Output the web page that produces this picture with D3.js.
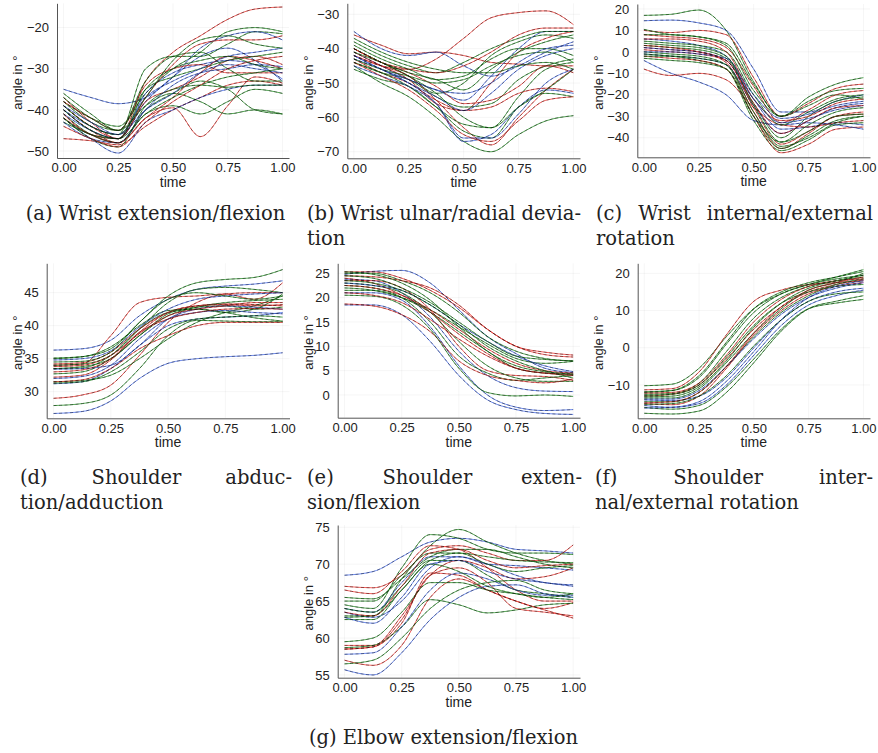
<!DOCTYPE html>
<html>
<head>
<meta charset="utf-8">
<script src="https://cdn.jsdelivr.net/npm/d3@7"></script>
<style>
  body { margin: 0; background: #fff; }
  text { fill: #222; }
</style>
</head>
<body>
<script>
// sample times shared by every trajectory
var timeGrid = [0, 0.125, 0.25, 0.375, 0.5, 0.625, 0.75, 0.875, 1];
var xTicks = [0, 0.25, 0.5, 0.75, 1];

// (a) wrist extension/flexion
var wristExtFlex = [
  [-37, -43, -47, -33, -26, -22, -18, -15.5, -15],
  [-35, -37, -38.5, -37, -32, -27, -25, -28, -33],
  [-40, -45, -48, -42, -39.5, -46.5, -39, -32, -33.5],
  [-47, -47.5, -48.5, -44, -40, -37, -34, -33, -34],
  [-39, -44, -46, -30, -27, -27, -24, -21, -21.5],
  [-38, -42, -44, -36, -30, -26, -21, -20, -21],
  [-40, -45, -47, -38, -32, -25, -22, -21, -23],
  [-41, -46, -48, -40, -36, -33, -35, -40, -41],
  [-42, -47, -50.5, -43, -40, -37, -35, -34, -34],
  [-43, -46, -48, -41, -39, -41, -38, -35, -36],
  [-39, -44, -47, -38, -35, -32, -28, -27, -29],
  [-38, -43, -45, -35, -32, -30, -28, -27, -26],
  [-41, -45, -47, -36, -31, -29, -28, -29, -32.5],
  [-38, -42, -45, -34, -30, -29, -31, -31, -31],
  [-36, -41, -45, -33, -27, -26, -30, -33, -33],
  [-40, -44, -46, -37, -33, -30, -27, -26, -25],
  [-42, -47, -49, -39, -35, -34, -34.5, -34, -34],
  [-41, -46, -47, -37, -29, -24, -23, -23, -22],
  [-39, -44, -46, -37, -28, -23, -22, -24, -25],
  [-43, -47, -48, -40, -34, -31, -30, -29, -29.5],
  [-37, -42, -45, -39, -36, -38, -41, -40, -41],
  [-42, -46, -48, -42, -37, -31, -27, -28, -30],
  [-39, -43, -46, -40, -36, -31, -29, -30, -31],
  [-40, -45, -47, -41, -37, -34, -32, -31, -30],
  [-44, -47, -49, -43, -38, -34, -30, -28, -27],
  [-42, -46, -47, -35, -30, -28, -27, -29, -30]
];
var wristExtFlexColors = "rbrrggbgbgrgbrgbgrgbgrbgrg";

// (b) wrist ulnar/radial deviation
var wristDeviation = [
  [-42, -45, -46, -43, -37, -31, -29.5, -29, -33],
  [-36, -39, -41.5, -41, -42, -44, -44.5, -45, -45],
  [-35, -40, -42, -41, -45, -48, -45, -41, -38],
  [-40, -44, -48, -53, -50, -42, -38, -36, -37],
  [-41, -45, -49, -52, -55, -48, -40, -35, -35],
  [-43, -47, -50, -55, -58, -50, -41, -37, -35],
  [-44, -47, -49, -54, -57, -56, -49, -45, -43],
  [-40, -44, -48, -53, -60, -63, -54, -46, -44],
  [-42, -45, -48, -55, -63, -68, -60, -52, -46],
  [-45, -50, -54, -60, -67, -70, -65, -61, -59.5],
  [-46, -49, -51, -57, -64, -66, -57, -53, -54],
  [-43, -46, -50, -56, -67, -65, -57, -52, -53],
  [-41, -45, -49, -56, -58, -57, -53, -51.5, -52.5],
  [-38, -42, -45, -47, -44, -40, -37, -35, -35],
  [-40, -44, -46, -47, -45, -41, -36, -34, -34],
  [-39, -43, -46, -49, -48, -43, -40, -40, -42],
  [-42, -46, -50, -54, -58, -53, -46, -42, -40],
  [-44, -47, -51, -57, -62, -63, -57, -52, -46],
  [-40, -44, -47, -51, -56, -55, -51, -45, -47],
  [-43, -46, -48, -50, -49, -45, -42, -41, -44],
  [-45, -48, -51, -56, -66, -66, -59, -50, -46],
  [-41, -44, -47, -49, -52, -46, -41, -38, -36],
  [-44, -48, -52, -58, -65, -67, -61, -55, -54],
  [-37, -41, -44, -46, -47, -47, -45, -44, -46],
  [-42, -46, -49, -52, -53, -50, -44, -40, -39]
];
var wristDeviationColors = "rrbgbrggrggbrgrgbgrgbgrgb";

// (c) wrist internal/external rotation
var wristRotation = [
  [17, 17.5, 19.5, 10, -14, -30, -25, -20, -22],
  [14.5, 14.8, 13.5, 10, -8, -28, -28, -23, -20],
  [10, 9, 10, 8, -12, -30, -24, -17, -15],
  [10.5, 8, 7, 4, -15, -30, -21, -15, -12],
  [8, 7, 6, 2, -16, -33, -27, -20, -18],
  [6, 5, 3, -2, -22, -36, -35, -33, -34],
  [3, 2, 1, -3, -24, -40, -30, -23, -21],
  [2, 1, 0, -5, -28, -45, -38, -30, -29],
  [0, -1, -2, -6, -30, -45, -39, -32, -30],
  [-1, -2, -3, -6, -25, -38, -32, -26, -24],
  [-1, -2, -4, -8, -32, -46, -41, -34, -33],
  [-2, -3, -4, -8, -30, -47, -43, -36, -35],
  [-4, -10, -14, -20, -32, -34, -33, -34, -36],
  [-8, -11, -10, -13, -26, -34, -35, -33, -32],
  [5, 4, 3, 0, -20, -34, -28, -22, -20],
  [1, 0, -1, -4, -26, -43, -37, -30, -28],
  [-2, -2, -3, -6, -28, -44, -40, -33, -30],
  [0, 0, -1, -3, -20, -31, -29, -25, -23],
  [4, 3, 2, -2, -25, -42, -34, -28, -26],
  [6, 6, 5, 0, -22, -32, -30, -24, -22],
  [-3, -4, -5, -8, -30, -42, -37, -30, -29],
  [2, 1, 0, -4, -22, -33, -31, -27, -25],
  [8, 8, 7, 3, -18, -30, -23, -18, -17],
  [3, 2, 0, -4, -24, -38, -32, -26, -25]
];
var wristRotationColors = "gbrgrbgrgbgrbrgrgbgrgbgr";

// (d) shoulder abduction/adduction
var shoulderAbduction = [
  [26.7, 27.0, 28.6, 32.0, 34.3, 35.0, 35.3, 35.5, 35.9],
  [27.9, 28.2, 29.5, 33.5, 38.5, 40.8, 40.7, 40.6, 40.6],
  [29.0, 29.5, 31.0, 35.5, 40.5, 43.5, 44.8, 45.0, 45.0],
  [36.3, 36.5, 37.8, 41.5, 44.0, 45.5, 46.0, 46.3, 46.8],
  [34.0, 34.2, 38.5, 43.5, 44.3, 44.5, 44.8, 44.0, 46.5],
  [35.0, 35.3, 36.5, 40.5, 44.5, 46.5, 47.0, 47.3, 48.5],
  [34.0, 34.2, 35.5, 39.5, 43.5, 45.5, 45.8, 45.5, 45.0],
  [33.5, 33.8, 35.0, 38.5, 41.8, 42.8, 43.0, 42.5, 42.8],
  [33.5, 33.6, 35.5, 39.5, 42.0, 42.5, 42.0, 41.2, 40.7],
  [32.2, 32.5, 34.8, 39.0, 42.0, 43.0, 43.3, 43.2, 43.0],
  [31.2, 31.5, 33.5, 37.0, 40.0, 41.0, 41.3, 41.5, 42.0],
  [31.5, 31.7, 32.5, 35.0, 38.0, 40.5, 42.0, 43.0, 44.5],
  [31.5, 31.8, 33.5, 36.5, 38.5, 40.0, 40.5, 40.5, 40.5],
  [32.7, 33.0, 35.0, 38.5, 41.5, 42.8, 43.5, 43.8, 44.0],
  [33.4, 33.5, 34.0, 37.0, 41.0, 42.5, 43.0, 42.8, 42.5],
  [34.2, 34.4, 36.0, 39.5, 42.0, 43.0, 43.2, 43.0, 43.2],
  [35.1, 35.3, 36.8, 40.0, 42.3, 42.5, 42.0, 42.5, 44.8],
  [34.8, 35.0, 36.2, 39.8, 42.5, 44.0, 44.5, 44.8, 45.0],
  [33.8, 34.0, 35.5, 38.8, 41.5, 42.5, 43.0, 43.5, 43.5],
  [34.5, 34.6, 36.0, 40.5, 44.0, 45.0, 44.5, 44.0, 44.5],
  [32.0, 32.3, 34.0, 38.0, 41.0, 42.0, 42.3, 42.0, 41.8],
  [31.3, 31.5, 33.0, 36.0, 39.5, 41.0, 41.3, 41.5, 41.3],
  [33.0, 33.3, 35.0, 39.0, 41.0, 42.0, 42.5, 42.6, 42.5]
];
var shoulderAbductionColors = "bgrbrggggrbgrgbrgbrgbgr";

// (e) shoulder extension/flexion
var shoulderExtFlex = [
  [24.8, 25.4, 25.6, 23.0, 17.5, 12.0, 8.5, 5.5, 4.6],
  [25.3, 25.3, 24.0, 21.5, 18.0, 13.5, 10.0, 8.8, 8.2],
  [25.0, 25.0, 23.5, 21.0, 17.0, 12.0, 9.0, 7.5, 7.0],
  [24.5, 24.3, 23.5, 22.0, 18.5, 13.5, 10.0, 8.3, 7.8],
  [23.8, 23.5, 21.0, 16.0, 9.0, 4.0, 1.5, 0.8, 0.7],
  [23.5, 23.5, 22.0, 17.5, 10.0, 5.0, 4.0, 3.8, 3.0],
  [23.0, 22.5, 21.0, 17.0, 11.0, 6.0, 3.5, 2.8, 2.8],
  [22.5, 22.0, 20.0, 15.0, 8.0, 4.5, 3.0, 3.5, 4.0],
  [21.0, 21.0, 19.5, 14.0, 6.0, 0.0, -2.5, -3.2, -3.0],
  [18.5, 18.5, 16.5, 11.0, 4.0, -1.0, -3.0, -3.8, -4.0],
  [18.7, 18.3, 16.5, 13.0, 7.0, 4.0, 3.0, 2.5, 3.3],
  [20.5, 20.3, 18.5, 13.5, 5.5, 0.5, -0.2, 0.0, -0.3],
  [21.5, 21.5, 20.0, 17.0, 13.0, 9.0, 5.5, 4.5, 4.2],
  [24.0, 23.0, 20.5, 17.0, 12.5, 8.5, 5.5, 4.5, 4.0],
  [22.0, 21.5, 20.0, 17.5, 14.0, 10.5, 7.5, 6.5, 6.9],
  [23.0, 22.5, 21.5, 18.5, 14.5, 11.0, 8.0, 6.0, 4.8],
  [24.5, 24.0, 22.0, 19.0, 15.0, 11.0, 8.0, 7.3, 7.0],
  [22.5, 22.0, 20.5, 17.5, 13.5, 9.5, 6.5, 5.0, 4.5],
  [23.5, 23.0, 21.5, 18.5, 14.5, 10.0, 7.0, 5.0, 3.5],
  [21.0, 20.5, 19.0, 15.5, 11.5, 8.0, 5.5, 4.5, 4.3],
  [25.3, 24.8, 23.0, 19.5, 14.0, 9.0, 6.0, 4.8, 4.3]
];
var shoulderExtFlexColors = "brgrbrggbbrggrgbgrgrg";

// (f) shoulder internal/external rotation
var shoulderRotation = [
  [-10.2, -9.8, -5.5, 3.0, 10.5, 14.5, 17.0, 19.0, 21.0],
  [-11.3, -11.0, -6.5, 3.5, 12.5, 15.5, 17.0, 17.5, 18.0],
  [-12.0, -11.5, -7.5, 1.5, 10.5, 15.0, 17.5, 19.0, 20.5],
  [-12.5, -12.3, -9.5, -1.0, 8.0, 13.5, 16.5, 18.0, 19.0],
  [-13.0, -12.5, -10.0, -3.0, 5.0, 11.0, 15.0, 17.0, 18.3],
  [-13.5, -13.5, -11.0, -4.0, 4.0, 10.5, 15.5, 17.5, 20.0],
  [-14.0, -14.2, -13.0, -8.0, 0.0, 7.5, 12.5, 15.0, 16.0],
  [-14.5, -14.5, -12.0, -5.0, 3.0, 9.5, 14.0, 17.0, 18.5],
  [-15.0, -15.3, -13.0, -5.5, 3.5, 10.0, 14.5, 16.5, 17.5],
  [-15.5, -16.0, -15.0, -10.0, -2.0, 6.0, 11.5, 14.0, 15.5],
  [-16.0, -16.5, -15.5, -10.5, -3.0, 5.0, 10.5, 12.0, 13.0],
  [-17.6, -17.8, -17.0, -12.0, -4.0, 4.5, 10.5, 12.5, 14.0],
  [-12.8, -12.5, -10.0, -2.5, 6.0, 12.0, 15.0, 16.5, 17.0],
  [-12.2, -12.0, -9.5, -2.0, 7.0, 13.0, 16.5, 18.0, 18.5],
  [-13.8, -13.8, -11.5, -5.0, 2.5, 9.0, 13.5, 16.0, 17.5],
  [-15.2, -15.0, -13.0, -7.5, 0.5, 7.5, 12.5, 14.5, 15.0],
  [-14.8, -14.5, -12.0, -5.0, 4.0, 11.0, 15.5, 17.5, 19.0],
  [-13.2, -13.0, -10.5, -3.5, 5.5, 12.0, 16.0, 18.0, 19.5],
  [-16.2, -16.0, -14.5, -9.0, -1.0, 7.5, 13.5, 16.5, 18.0],
  [-11.8, -11.5, -8.0, 1.0, 9.5, 14.5, 17.0, 18.5, 19.5]
];
var shoulderRotationColors = "grggrgbgrbgggrbgrgbg";

// (g) elbow extension/flexion
var elbowExtFlex = [
  [68.5, 69.0, 71.0, 73.0, 73.5, 73.0, 72.0, 71.8, 71.5],
  [64.5, 64.0, 69.5, 74.0, 73.5, 72.0, 71.5, 71.5, 71.3],
  [63.0, 63.0, 68.0, 72.5, 74.7, 73.0, 71.5, 70.5, 70.0],
  [67.0, 66.8, 68.5, 72.0, 72.5, 71.5, 70.5, 70.5, 72.6],
  [66.5, 66.0, 69.0, 72.5, 72.0, 69.5, 66.5, 65.0, 65.0],
  [64.0, 63.5, 67.5, 71.0, 71.0, 70.0, 69.8, 69.5, 69.2],
  [65.0, 65.0, 68.5, 71.5, 71.5, 71.0, 70.5, 70.3, 70.2],
  [63.5, 62.8, 65.0, 69.5, 71.0, 70.0, 68.5, 67.5, 67.2],
  [64.0, 63.5, 67.0, 70.5, 70.5, 68.5, 66.5, 66.0, 65.5],
  [62.8, 63.0, 66.5, 70.5, 71.5, 70.0, 69.0, 69.5, 69.8],
  [59.0, 59.0, 63.0, 68.5, 70.5, 69.5, 68.0, 68.3, 69.5],
  [58.5, 58.8, 62.0, 68.8, 68.5, 66.5, 65.0, 64.0, 64.8],
  [58.7, 59.0, 61.5, 65.2, 64.5, 63.4, 63.8, 64.5, 64.7],
  [57.0, 56.3, 59.0, 65.5, 68.0, 66.5, 65.0, 63.8, 62.7],
  [55.7, 55.0, 58.0, 62.5, 65.5, 67.0, 67.2, 66.0, 65.5],
  [57.8, 58.0, 61.5, 66.5, 68.8, 68.0, 66.5, 65.8, 65.8],
  [58.5, 58.8, 62.5, 68.5, 69.5, 67.5, 64.0, 63.5, 63.0],
  [59.5, 60.0, 63.5, 67.5, 67.5, 66.5, 66.0, 65.5, 65.2],
  [62.5, 62.5, 66.5, 70.0, 69.0, 67.0, 66.0, 65.5, 66.0],
  [62.8, 62.0, 65.5, 70.0, 70.5, 69.0, 68.0, 67.5, 67.0],
  [65.5, 65.3, 68.0, 71.0, 72.0, 72.0, 71.0, 70.0, 69.5],
  [63.5, 63.0, 67.0, 71.5, 72.0, 70.5, 69.5, 69.8, 70.0],
  [56.5, 57.0, 60.0, 64.0, 66.5, 67.5, 67.8, 66.5, 66.0]
];
var elbowExtFlexColors = "bggrrbgbggrrgrbbrggbgrg";

var yTicksA = [-50, -40, -30, -20];
var yTicksB = [-70, -60, -50, -40, -30];
var yTicksC = [-40, -30, -20, -10, 0, 10, 20];
var yTicksD = [30, 35, 40, 45];
var yTicksE = [0, 5, 10, 15, 20, 25];
var yTicksF = [-10, 0, 10, 20];
var yTicksG = [55, 60, 65, 70, 75];

var captionA = [["(a) Wrist extension/flexion", "center"]];
var captionB = [["(b) Wrist ulnar/radial devia-", "justify"], ["tion", "left"]];
var captionC = [["(c) Wrist internal/external", "justify"], ["rotation", "left"]];
var captionD = [["(d) Shoulder abduc-", "justify"], ["tion/adduction", "left"]];
var captionE = [["(e) Shoulder exten-", "justify"], ["sion/flexion", "left"]];
var captionF = [["(f) Shoulder inter-", "justify"], ["nal/external rotation", "left"]];
var captionG = [["(g) Elbow extension/flexion", "center"]];

// layout of each panel (pixels) and its y limits
var panels = [
  {data: wristExtFlex, colors: wristExtFlexColors, yTicks: yTicksA, ylim: [-51.7, -14.1],
   L: 57, R: 289, T: 3.3, B: 158, labelX: 17, caption: captionA, capL: 20, capR: 291, capY: 220},
  {data: wristDeviation, colors: wristDeviationColors, yTicks: yTicksB, ylim: [-71.9, -26.8],
   L: 347.3, R: 580, T: 3.3, B: 158.3, labelX: 308, caption: captionB, capL: 307, capR: 581, capY: 220},
  {data: wristRotation, colors: wristRotationColors, yTicks: yTicksC, ylim: [-49.1, 22.3],
   L: 637.3, R: 870, T: 4, B: 157.3, labelX: 598, caption: captionC, capL: 596, capR: 873, capY: 220},
  {data: shoulderAbduction, colors: shoulderAbductionColors, yTicks: yTicksD, ylim: [25.97, 49.45],
   L: 46.7, R: 289.5, T: 263.3, B: 418.3, labelX: 17, caption: captionD, capL: 20, capR: 292, capY: 484},
  {data: shoulderExtFlex, colors: shoulderExtFlexColors, yTicks: yTicksE, ylim: [-4.67, 27.06],
   L: 337.7, R: 580, T: 263.3, B: 417.7, labelX: 308, caption: captionE, capL: 307, capR: 582, capY: 484},
  {data: shoulderRotation, colors: shoulderRotationColors, yTicks: yTicksF, ylim: [-18.95, 22.7],
   L: 637.7, R: 870, T: 263.3, B: 418.3, labelX: 598, caption: captionF, capL: 595, capR: 873, capY: 484},
  {data: elbowExtFlex, colors: elbowExtFlexColors, yTicks: yTicksG, ylim: [54.63, 75.3],
   L: 337.7, R: 580, T: 525, B: 677.7, labelX: 308, caption: captionG, capL: 307, capR: 580, capY: 744}
];

var palette = {r: "#f03a35", g: "#2a902a", b: "#4a6ee8"};

var svg = d3.select("body").append("svg").attr("width", 878).attr("height", 753)
    .style("font-family", "'Liberation Sans', Arial, sans-serif");

panels.forEach(function (p, pi) {
    var x = d3.scaleLinear().domain([-0.03, 1.03]).range([p.L, p.R]);
    var y = d3.scaleLinear().domain(p.ylim).range([p.B, p.T]);
    var g = svg.append("g");

    // grid
    g.selectAll(".gx").data(xTicks).join("line")
        .attr("x1", function (d) { return x(d); }).attr("x2", function (d) { return x(d); })
        .attr("y1", p.T).attr("y2", p.B)
        .attr("stroke", "#000").attr("stroke-opacity", 0.07).attr("stroke-width", 0.6);
    g.selectAll(".gy").data(p.yTicks).join("line")
        .attr("x1", p.L).attr("x2", p.R)
        .attr("y1", function (d) { return y(d); }).attr("y2", function (d) { return y(d); })
        .attr("stroke", "#000").attr("stroke-opacity", 0.07).attr("stroke-width", 0.6);

    // clip to the plot area
    var clipId = "clip" + pi;
    g.append("clipPath").attr("id", clipId).append("rect")
        .attr("x", p.L).attr("y", p.T).attr("width", p.R - p.L).attr("height", p.B - p.T);

    var line = d3.line()
        .x(function (d, i) { return x(timeGrid[i]); })
        .y(function (d) { return y(d); })
        .curve(d3.curveMonotoneX);

    var curves = g.append("g").attr("clip-path", "url(#" + clipId + ")");
    // measured trajectories (coloured)
    curves.selectAll(".raw").data(p.data).join("path")
        .attr("d", line)
        .attr("fill", "none")
        .attr("stroke", function (d, i) { return palette[p.colors[i]]; })
        .attr("stroke-opacity", 0.8)
        .attr("stroke-width", 1);
    // fitted trajectories (black dashed)
    curves.selectAll(".fit").data(p.data).join("path")
        .attr("d", line)
        .attr("fill", "none")
        .attr("stroke", "#000")
        .attr("stroke-opacity", 0.45)
        .attr("stroke-width", 0.9)
        .attr("stroke-dasharray", "3,2.5");

    // axes
    var yAxis = d3.axisLeft(y).tickValues(p.yTicks).tickSize(0).tickSizeOuter(0).tickPadding(8);
    var xAxis = d3.axisBottom(x).tickValues(xTicks).tickSize(0).tickSizeOuter(0).tickPadding(5)
        .tickFormat(d3.format(".2f"));
    var ya = g.append("g").attr("transform", "translate(" + p.L + ",0)").call(yAxis);
    var xa = g.append("g").attr("transform", "translate(0," + p.B + ")").call(xAxis);
    [ya, xa].forEach(function (a) {
        a.select(".domain").attr("stroke", "#555").attr("stroke-width", 1);
        a.selectAll("text").attr("font-size", 13).attr("fill", "#222")
            .attr("font-family", "'Liberation Sans', Arial, sans-serif");
    });

    // axis titles
    g.append("text")
        .attr("x", (x(0) + x(1)) / 2).attr("y", p.B + 29)
        .attr("text-anchor", "middle").attr("font-size", 14)
        .text("time");
    g.append("text")
        .attr("transform", "translate(" + p.labelX + "," + ((p.T + p.B) / 2 + 2) + ") rotate(-90)")
        .attr("text-anchor", "middle").attr("dy", "0.35em").attr("font-size", 13)
        .text("angle in °");

    // sub caption, LaTeX-like justified lines
    p.caption.forEach(function (ln, li) {
        var yy = p.capY + li * 25;
        var cap = svg.append("g").attr("font-family", "'DejaVu Serif', serif").attr("font-size", 19.5);
        if (ln[1] === "justify") {
            var words = ln[0].split(" ");
            var nodes = words.map(function (w) { return cap.append("text").attr("y", yy).text(w); });
            var widths = nodes.map(function (n) { return n.node().getComputedTextLength(); });
            var gap = (p.capR - p.capL - d3.sum(widths)) / (words.length - 1);
            var cx = p.capL;
            nodes.forEach(function (n, k) { n.attr("x", cx); cx += widths[k] + gap; });
        } else if (ln[1] === "center") {
            cap.append("text").attr("x", (p.capL + p.capR) / 2).attr("y", yy)
                .attr("text-anchor", "middle").text(ln[0]);
        } else {
            cap.append("text").attr("x", p.capL).attr("y", yy).text(ln[0]);
        }
    });
});
</script>
</body>
</html>
